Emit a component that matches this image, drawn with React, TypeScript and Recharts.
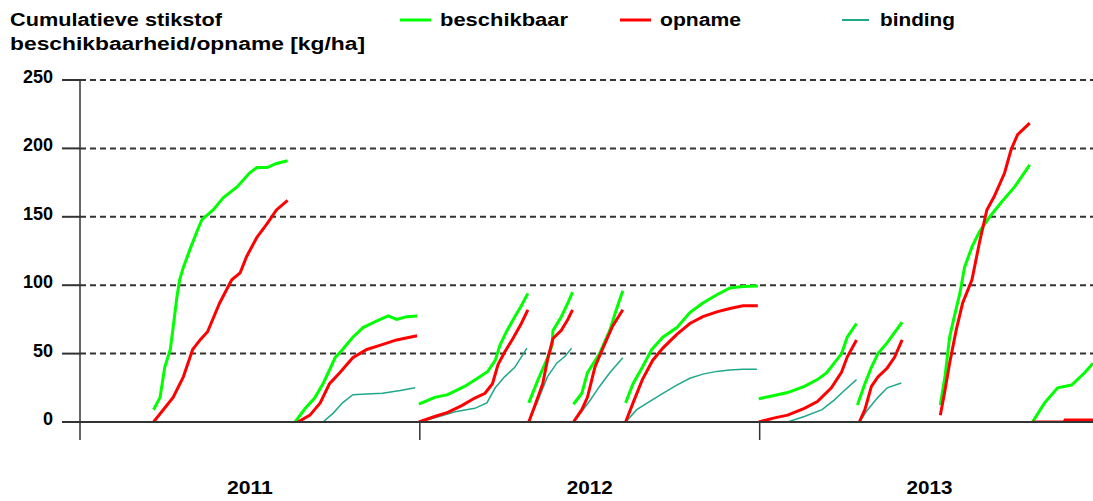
import React from "react";
import { LineChart, Line, XAxis, YAxis, CartesianGrid } from "recharts";

const W = 1093;
const H = 501;
const Y_AXIS_W = 80;
const X_AXIS_H = 79;
const TOP = 80;

// x = days since 1 jan 2011
const X_MAX = 1088;
const YEAR_STARTS = [0, 365, 730];
const YEAR_LABELS = ["2011", "2012", "2013"];
const Y_TICKS = [0, 50, 100, 150, 200, 250];

// one array per teeltperiode: [dag, kg/ha]
const beschikbaar: [number, number][][] = [
  [[79, 9], [86, 18], [91, 40], [97, 53], [100, 69], [104, 91], [107, 104], [111, 113], [118, 126], [126, 140], [131, 148], [143, 155], [154, 164], [169, 172], [182, 182], [190, 186], [201, 186], [211, 189], [223, 191]],
  [[231, 0], [242, 10], [252, 17.5], [261, 28], [268, 38], [274, 47], [282, 53], [293, 62], [304, 69], [319, 74], [331, 77.5], [340, 75], [351, 77], [362, 77.5]],
  [[364, 13], [381, 18], [395, 20], [413, 26], [427, 32], [438, 37], [446, 45], [451, 56], [458, 66], [467, 77], [474, 85], [481, 94]],
  [[482, 14], [492, 31], [501, 45], [507, 56], [508, 67], [517, 77], [524, 87], [529, 95]],
  [[530, 13], [539, 21], [545, 36], [558, 50], [569, 67], [576, 82], [583, 96]],
  [[586, 14], [594, 28], [604, 40], [614, 53], [626, 62], [641, 69], [655, 80], [669, 87], [684, 93], [698, 98], [712, 99], [728, 99.5]],
  [[729, 17], [743, 19], [760, 21.5], [778, 26], [792, 31], [802, 36], [810, 43], [818, 50], [824, 62], [834, 72]],
  [[835, 12.5], [843, 28], [850, 40], [857, 50], [867, 58], [883, 73]],
  [[924, 12.5], [929, 33], [934, 62], [939, 77], [945, 94], [950, 113], [958, 128], [966, 139], [977, 150], [990, 161], [1004, 172], [1020, 188]],
  [[1023, 0], [1036, 14], [1050, 25], [1065, 27], [1079, 36], [1088, 43]],
];

const opname: [number, number][][] = [
  [[79, 0], [100, 18], [111, 33], [121, 53], [129, 60], [137, 66], [150, 87], [163, 104], [172, 109], [179, 121], [190, 135], [201, 145], [211, 155], [223, 162]],
  [[234, 0], [247, 5], [258, 14], [268, 28], [279, 36], [293, 47], [308, 53], [322, 56], [340, 60], [362, 63]],
  [[364, 0], [381, 4], [395, 7], [410, 12], [424, 17.5], [435, 21], [443, 28], [449, 42], [456, 51], [465, 61], [474, 72], [481, 82]],
  [[482, 0], [488, 11], [497, 28], [502, 45], [508, 61], [517, 67], [524, 75], [529, 82]],
  [[530, 0], [539, 9], [545, 18], [553, 40], [561, 53], [572, 70], [583, 82]],
  [[586, 0], [594, 14], [604, 31], [615, 45], [626, 54], [641, 64], [655, 72], [669, 77], [684, 80.5], [698, 83], [712, 85], [728, 85]],
  [[729, 0], [746, 3], [760, 5], [778, 10], [792, 15], [807, 25], [818, 36.5], [824, 47.5], [834, 60]],
  [[837, 0], [843, 9], [850, 26], [857, 33], [867, 39.5], [875, 47.5], [883, 60]],
  [[924, 5], [929, 23], [934, 43], [941, 67], [948, 87], [958, 104], [966, 131], [974, 155], [982, 165], [993, 182], [1000, 199], [1007, 210], [1020, 218.5]],
  [[1023, 0], [1057, 0], [1058, 1.5], [1088, 1.5]],
];

const binding: [number, number][][] = [
  [[236, 0], [261, 0], [272, 6.5], [282, 14], [293, 20], [308, 20.5], [325, 21], [344, 23], [360, 25]],
  [[364, 0], [381, 3], [403, 7.5], [424, 10], [437, 14], [446, 25], [456, 33], [467, 40], [480, 54]],
  [[482, 0], [492, 16], [502, 33], [512, 43], [521, 48], [528, 54]],
  [[530, 0], [547, 15], [558, 26], [569, 36], [583, 47]],
  [[586, 0], [598, 9], [612, 15], [626, 21], [641, 27], [655, 32], [669, 35], [684, 37], [698, 38], [712, 38.5], [727, 38.5]],
  [[729, 0], [760, 0], [778, 4], [797, 9], [810, 16], [821, 23], [834, 31]],
  [[837, 0], [846, 9], [857, 18], [867, 25], [882, 28.5]],
];

const GREEN = "#00ff00";
const RED = "#ff0000";
const TEAL = "#1fa88a";
const AXIS = "#333333";
const FONT = "'Liberation Sans', Arial, sans-serif";

const toRows = (seg: [number, number][]) => seg.map(([d, v]) => ({ d, v }));

function ValueTick(props: any) {
  const { x, y, payload } = props;
  return (
    <text x={x} y={y + 3} textAnchor="end" fontFamily={FONT} fontWeight="bold" fontSize={18} fill="#000">
      {payload.value}
    </text>
  );
}

function YearTick(props: any) {
  const { x, y, payload } = props;
  const i = YEAR_STARTS.indexOf(payload.value);
  const halfYear = ((W - Y_AXIS_W) / X_MAX) * 182.5;
  return (
    <text x={x + halfYear} y={y + 52} textAnchor="middle" fontFamily={FONT} fontWeight="bold" fontSize={18} fill="#000" textLength={46} lengthAdjust="spacingAndGlyphs">
      {YEAR_LABELS[i]}
    </text>
  );
}

function Header() {
  const t = { fontFamily: FONT, fontWeight: "bold" as const, fontSize: 18, fill: "#000" };
  return (
    <svg width={W} height={60} style={{ position: "absolute", left: 0, top: 0 }}>
      <text x={10} y={26} {...t} textLength={212} lengthAdjust="spacingAndGlyphs">Cumulatieve stikstof</text>
      <text x={10} y={50} {...t} textLength={355} lengthAdjust="spacingAndGlyphs">beschikbaarheid/opname [kg/ha]</text>
      <line x1={400} x2={431} y1={20} y2={20} stroke={GREEN} strokeWidth={3} />
      <text x={440} y={26} {...t} textLength={128} lengthAdjust="spacingAndGlyphs">beschikbaar</text>
      <line x1={620} x2={651} y1={20} y2={20} stroke={RED} strokeWidth={3} />
      <text x={660} y={26} {...t} textLength={81} lengthAdjust="spacingAndGlyphs">opname</text>
      <line x1={842} x2={869} y1={20} y2={20} stroke={TEAL} strokeWidth={2} />
      <text x={880} y={26} {...t} textLength={75} lengthAdjust="spacingAndGlyphs">binding</text>
    </svg>
  );
}

export default function App() {
  return (
    <div style={{ position: "absolute", left: 0, top: 0, width: W, height: H, background: "#fff" }}>
      <LineChart width={W} height={H} margin={{ top: TOP, right: 0, bottom: 0, left: 0 }}>
        <CartesianGrid vertical={false} stroke={AXIS} strokeWidth={2} strokeDasharray="6 4" />
        <XAxis
          type="number"
          dataKey="d"
          domain={[0, X_MAX]}
          ticks={YEAR_STARTS}
          allowDataOverflow
          height={X_AXIS_H}
          tickSize={18}
          tickLine={{ stroke: AXIS, strokeWidth: 1.5 }}
          axisLine={{ stroke: AXIS, strokeWidth: 2 }}
          tick={<YearTick />}
        />
        <YAxis
          type="number"
          domain={[0, 250]}
          ticks={Y_TICKS}
          allowDataOverflow
          width={Y_AXIS_W}
          tickSize={18}
          tickMargin={9}
          tickLine={{ stroke: AXIS, strokeWidth: 2 }}
          axisLine={{ stroke: AXIS, strokeWidth: 1.5 }}
          tick={<ValueTick />}
        />
        {beschikbaar.map((seg, i) => (
          <Line key={"g" + i} data={toRows(seg)} dataKey="v" type="linear" stroke={GREEN} strokeWidth={3} dot={false} activeDot={false} isAnimationActive={false} />
        ))}
        {binding.map((seg, i) => (
          <Line key={"t" + i} data={toRows(seg)} dataKey="v" type="linear" stroke={TEAL} strokeWidth={1.5} dot={false} activeDot={false} isAnimationActive={false} />
        ))}
        {opname.map((seg, i) => (
          <Line key={"r" + i} data={toRows(seg)} dataKey="v" type="linear" stroke={RED} strokeWidth={3} dot={false} activeDot={false} isAnimationActive={false} />
        ))}
      </LineChart>
      <Header />
    </div>
  );
}
